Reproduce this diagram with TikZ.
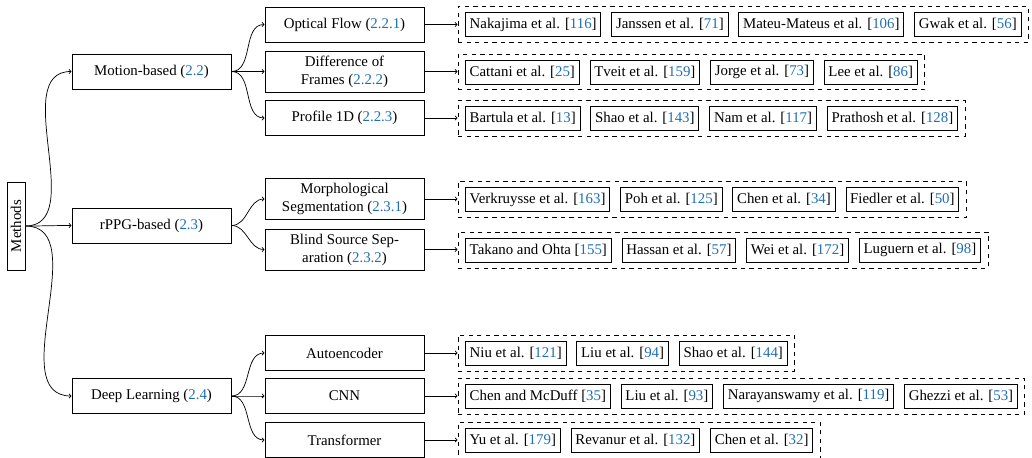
\documentclass[tikz,border=0pt]{standalone}
\usepackage{fontspec}
\setmainfont{Liberation Serif}
\usetikzlibrary{arrows.meta, positioning, fit}
\definecolor{refblue}{RGB}{31,110,180}
\DeclareRobustCommand{\refnum}[1]{\textcolor{refblue}{#1}}

\begin{document}
\fontsize{10.4}{12.6}\selectfont
\begin{tikzpicture}[
    x=0.7pt, y=-0.7pt,
    node distance=7pt,
    methodbox/.style={draw, line width=0.6pt, minimum width=61.6pt, minimum height=12.6pt, inner sep=1pt, rotate=90},
    catbox/.style={draw, line width=0.6pt, minimum width=111.3pt, minimum height=24.5pt, align=center, inner sep=2pt},
    tallbox/.style={catbox, minimum height=28.7pt},
    leaf/.style={draw, line width=0.6pt, minimum height=16.8pt, inner xsep=3pt, inner ysep=1pt},
    group/.style={draw, dashed, line width=0.6pt, inner xsep=4.9pt, inner ysep=3.85pt},
    arr/.style={-{To[length=2pt, width=3.5pt]}, line width=0.5pt},
    branch/.style={arr, out=0, in=180}
]
\useasboundingbox (0,0) rectangle (1032,458);

% root and categories
\node[methodbox] (methods) at (16,226) {Methods};
\node[catbox] (motion) at (151.5,71.5) {Motion-based (\refnum{2.2})};
\node[catbox] (rppg) at (151.5,225.5) {rPPG-based (\refnum{2.3})};
\node[catbox] (deep) at (151.5,396) {Deep Learning (\refnum{2.4})};

% sub-categories
\node[catbox] (flow) at (344.5,24.5) {Optical Flow (\refnum{2.2.1})};
\node[tallbox] (diff) at (344.5,71.5) {Difference of\\Frames (\refnum{2.2.2})};
\node[catbox] (profile) at (344.5,118) {Profile 1D (\refnum{2.2.3})};
\node[tallbox] (morph) at (344.5,199) {Morphological\\Segmentation (\refnum{2.3.1})};
\node[tallbox] (bss) at (344.5,249.5) {Blind Source Sep-\\aration (\refnum{2.3.2})};
\node[catbox] (autoenc) at (344.5,353) {Autoencoder};
\node[catbox] (cnn) at (344.5,396) {CNN};
\node[catbox] (transf) at (344.5,440) {Transformer};

% optical flow
\node[leaf, anchor=west] (nakajima) at (465,24.5) {Nakajima et al. [\refnum{116}]};
\node[leaf, right=of nakajima] (janssen) {Janssen et al. [\refnum{71}]};
\node[leaf, right=of janssen] (mateu) {Mateu-Mateus et al. [\refnum{106}]};
\node[leaf, right=of mateu] (gwak) {Gwak et al. [\refnum{56}]};
\node[group, fit=(nakajima)(gwak)] (flowrefs) {};

% difference of frames
\node[leaf, anchor=west] (cattani) at (465,72) {Cattani et al. [\refnum{25}]};
\node[leaf, right=of cattani] (tveit) {Tveit et al. [\refnum{159}]};
\node[leaf, right=of tveit] (jorge) {Jorge et al. [\refnum{73}]};
\node[leaf, right=of jorge] (lee) {Lee et al. [\refnum{86}]};
\node[group, fit=(cattani)(lee)] (diffrefs) {};

% profile 1D
\node[leaf, anchor=west] (bartula) at (465,118) {Bartula et al. [\refnum{13}]};
\node[leaf, right=of bartula] (shaoA) {Shao et al. [\refnum{143}]};
\node[leaf, right=of shaoA] (nam) {Nam et al. [\refnum{117}]};
\node[leaf, right=of nam] (prathosh) {Prathosh et al. [\refnum{128}]};
\node[group, fit=(bartula)(prathosh)] (profilerefs) {};

% morphological segmentation
\node[leaf, anchor=west] (verkruysse) at (465,199.5) {Verkruysse et al. [\refnum{163}]};
\node[leaf, right=of verkruysse] (poh) {Poh et al. [\refnum{125}]};
\node[leaf, right=of poh] (chenA) {Chen et al. [\refnum{34}]};
\node[leaf, right=of chenA] (fiedler) {Fiedler et al. [\refnum{50}]};
\node[group, fit=(verkruysse)(fiedler)] (morphrefs) {};

% blind source separation
\node[leaf, anchor=west] (takano) at (465,250) {Takano and Ohta [\refnum{155}]};
\node[leaf, right=of takano] (hassan) {Hassan et al. [\refnum{57}]};
\node[leaf, right=of hassan] (wei) {Wei et al. [\refnum{172}]};
\node[leaf, right=of wei] (luguern) {Luguern et al. [\refnum{98}]};
\node[group, fit=(takano)(luguern)] (bssrefs) {};

% autoencoder
\node[leaf, anchor=west] (niu) at (465,353) {Niu et al. [\refnum{121}]};
\node[leaf, right=of niu] (liuA) {Liu et al. [\refnum{94}]};
\node[leaf, right=of liuA] (shaoB) {Shao et al. [\refnum{144}]};
\node[group, fit=(niu)(shaoB)] (autoencrefs) {};

% CNN
\node[leaf, anchor=west] (chenmcduff) at (465,396) {Chen and McDuff [\refnum{35}]};
\node[leaf, right=of chenmcduff] (liuB) {Liu et al. [\refnum{93}]};
\node[leaf, right=of liuB] (narayan) {Narayanswamy et al. [\refnum{119}]};
\node[leaf, right=of narayan] (ghezzi) {Ghezzi et al. [\refnum{53}]};
\node[group, fit=(chenmcduff)(ghezzi)] (cnnrefs) {};

% transformer
\node[leaf, anchor=west] (yu) at (465,440) {Yu et al. [\refnum{179}]};
\node[leaf, right=of yu] (revanur) {Revanur et al. [\refnum{132}]};
\node[leaf, right=of revanur] (chenB) {Chen et al. [\refnum{32}]};
\node[group, fit=(yu)(chenB)] (transfrefs) {};

% tree edges
\draw[branch] (methods.south) to (motion.west);
\draw[branch] (methods.south) to (rppg.west);
\draw[branch] (methods.south) to (deep.west);
\draw[branch] (motion.east) to (flow.west);
\draw[branch] (motion.east) to (diff.west);
\draw[branch] (motion.east) to (profile.west);
\draw[branch] (rppg.east) to (morph.west);
\draw[branch] (rppg.east) to (bss.west);
\draw[branch] (deep.east) to (autoenc.west);
\draw[branch] (deep.east) to (cnn.west);
\draw[branch] (deep.east) to (transf.west);

\draw[arr] (flow.east) -- (flow.east -| flowrefs.west);
\draw[arr] (diff.east) -- (diff.east -| diffrefs.west);
\draw[arr] (profile.east) -- (profile.east -| profilerefs.west);
\draw[arr] (morph.east) -- (morph.east -| morphrefs.west);
\draw[arr] (bss.east) -- (bss.east -| bssrefs.west);
\draw[arr] (autoenc.east) -- (autoenc.east -| autoencrefs.west);
\draw[arr] (cnn.east) -- (cnn.east -| cnnrefs.west);
\draw[arr] (transf.east) -- (transf.east -| transfrefs.west);
\end{tikzpicture}
\end{document}
